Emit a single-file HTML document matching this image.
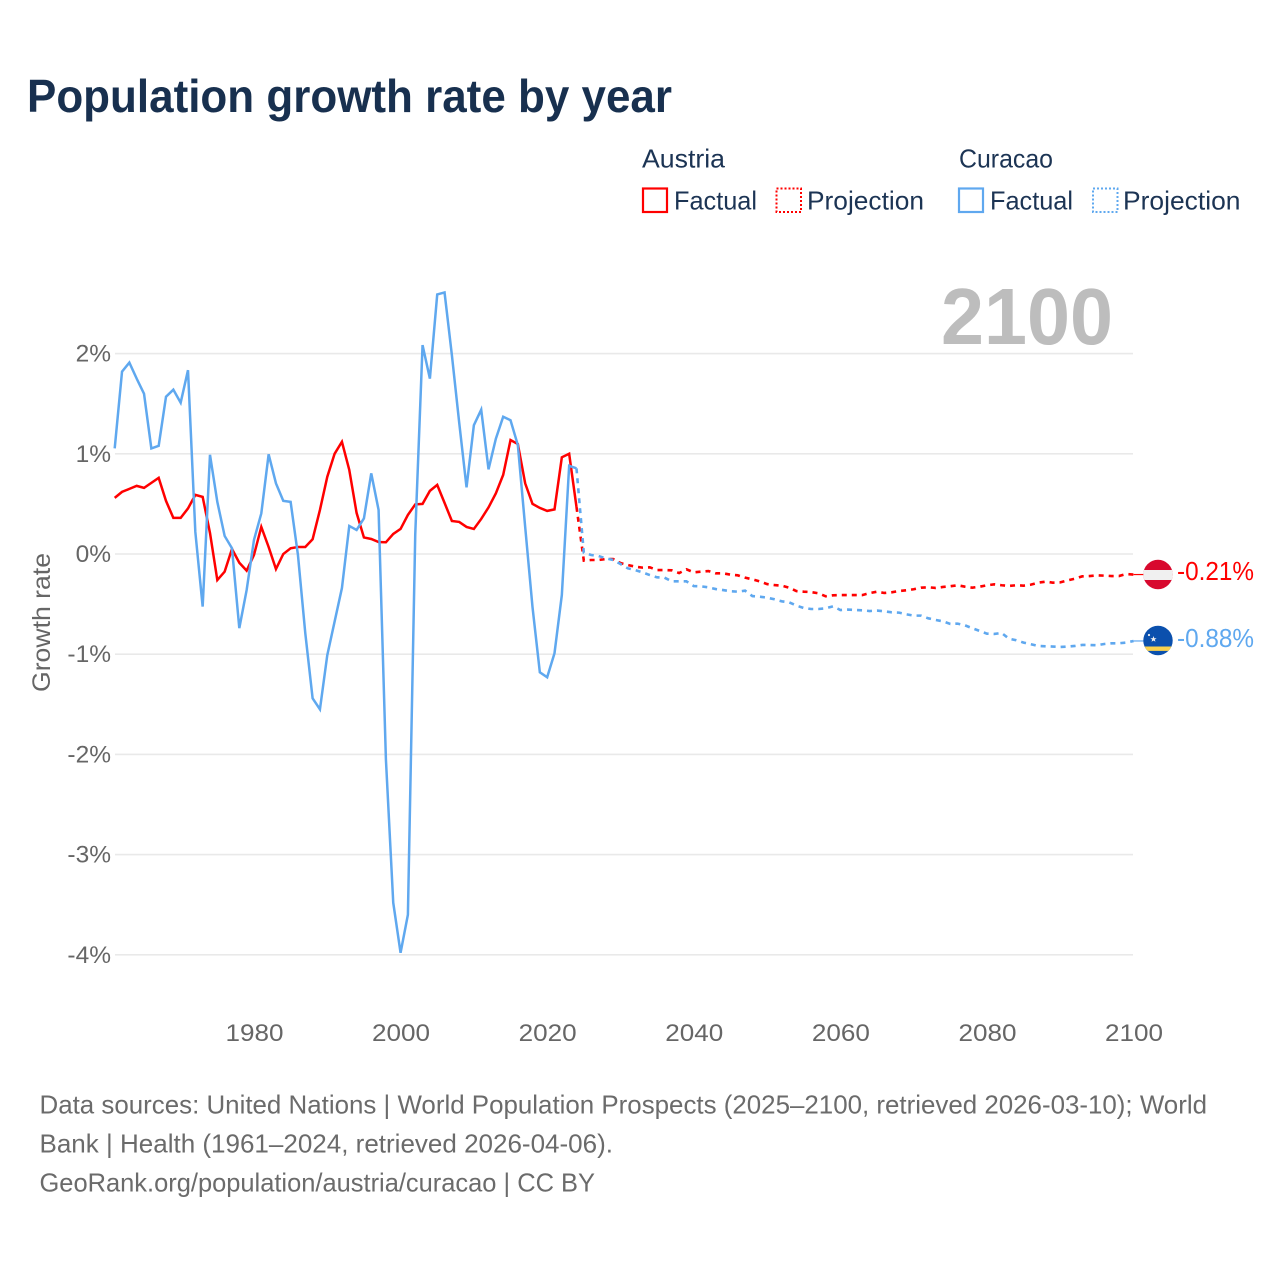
<!DOCTYPE html>
<html lang="en">
<head>
<meta charset="utf-8">
<title>Population growth rate by year</title>
<style>
html,body{margin:0;padding:0;background:#fff;width:1280px;height:1280px;overflow:hidden}
svg{display:block}
text{font-family:"Liberation Sans",sans-serif}
</style>
</head>
<body>
<svg id="chart" xmlns="http://www.w3.org/2000/svg" width="1280" height="1280" viewBox="0 0 1280 1280">
  <defs>
    <clipPath id="clip-at"><circle cx="1158" cy="574.5" r="14.7"/></clipPath>
    <clipPath id="clip-cw"><circle cx="1158" cy="640.5" r="14.7"/></clipPath>
  </defs>
  <rect width="1280" height="1280" fill="#fff"/>
  <text x="27" y="112" font-size="46" font-weight="700" fill="#18304f" textLength="645" lengthAdjust="spacingAndGlyphs">Population growth rate by year</text>

  <g font-size="26" fill="#1c3454">
    <text x="642" y="167.5" textLength="83" lengthAdjust="spacingAndGlyphs">Austria</text>
    <text x="959" y="167.5" textLength="94" lengthAdjust="spacingAndGlyphs">Curacao</text>
    <rect x="643" y="188.5" width="24" height="23.5" fill="none" stroke="#ff0000" stroke-width="2.2"/>
    <text x="674" y="209.5" textLength="83" lengthAdjust="spacingAndGlyphs">Factual</text>
    <rect x="776.5" y="188.5" width="24.5" height="23.5" fill="none" stroke="#ff0000" stroke-width="2" stroke-dasharray="2 2"/>
    <text x="807" y="209.5" textLength="117" lengthAdjust="spacingAndGlyphs">Projection</text>
    <rect x="959" y="188.5" width="24" height="23.5" fill="none" stroke="#5fa8ef" stroke-width="2.2"/>
    <text x="990" y="209.5" textLength="83" lengthAdjust="spacingAndGlyphs">Factual</text>
    <rect x="1093" y="188.5" width="24.5" height="23.5" fill="none" stroke="#5fa8ef" stroke-width="2" stroke-dasharray="2 2"/>
    <text x="1123" y="209.5" textLength="117.5" lengthAdjust="spacingAndGlyphs">Projection</text>
  </g>

  <g id="grid"></g>
  <g id="yticks"></g>
  <g id="xticks"></g>
  <text transform="translate(50,692) rotate(-90)" font-size="25" fill="#666" textLength="139" lengthAdjust="spacingAndGlyphs">Growth rate</text>
  <text x="941" y="344" font-size="80" font-weight="700" fill="#bdbdbd" textLength="172" lengthAdjust="spacingAndGlyphs">2100</text>

  <g id="series"></g>

  <g clip-path="url(#clip-at)">
    <rect x="1143" y="559" width="30" height="31" fill="#d8092e"/>
    <rect x="1143" y="570" width="30" height="10" fill="#f0f0f0"/>
  </g>
  <g clip-path="url(#clip-cw)">
    <rect x="1143" y="625" width="30" height="31" fill="#0b50ad"/>
    <rect x="1143" y="646.5" width="30" height="4.4" fill="#f9d24e"/>
    <polygon points="1153.5,636 1154.3,638.2 1156.6,638.2 1154.8,639.6 1155.5,641.8 1153.5,640.5 1151.5,641.8 1152.2,639.6 1150.4,638.2 1152.7,638.2" fill="#eee"/>
    <circle cx="1149" cy="635" r="1.1" fill="#eee"/>
  </g>
  <text x="1177" y="580" font-size="26" fill="#ff0000" textLength="77" lengthAdjust="spacingAndGlyphs">-0.21%</text>
  <text x="1177" y="647" font-size="26" fill="#5fa8ef" textLength="77" lengthAdjust="spacingAndGlyphs">-0.88%</text>

  <g font-size="26" fill="#6b6b6b">
    <text x="39.5" y="1113.5" textLength="1167.5" lengthAdjust="spacingAndGlyphs">Data sources: United Nations | World Population Prospects (2025–2100, retrieved 2026-03-10); World</text>
    <text x="39.5" y="1152.5" textLength="573.5" lengthAdjust="spacingAndGlyphs">Bank | Health (1961–2024, retrieved 2026-04-06).</text>
    <text x="39.5" y="1191.5" textLength="555.5" lengthAdjust="spacingAndGlyphs">GeoRank.org/population/austria/curacao | CC BY</text>
  </g>
</svg>
<script>
const factualYears = [1961,1962,1963,1964,1965,1966,1967,1968,1969,1970,1971,1972,1973,1974,1975,1976,1977,1978,1979,1980,1981,1982,1983,1984,1985,1986,1987,1988,1989,1990,1991,1992,1993,1994,1995,1996,1997,1998,1999,2000,2001,2002,2003,2004,2005,2006,2007,2008,2009,2010,2011,2012,2013,2014,2015,2016,2017,2018,2019,2020,2021,2022,2023,2024];
const austriaFactual = [0.56,0.62,0.65,0.68,0.66,0.71,0.76,0.53,0.36,0.36,0.455,0.59,0.57,0.21,-0.26,-0.176,0.05,-0.087,-0.166,-0.01,0.27,0.07,-0.15,0,0.057,0.07,0.07,0.147,0.44,0.77,1.0,1.12,0.84,0.41,0.165,0.15,0.12,0.117,0.2,0.25,0.39,0.495,0.5,0.63,0.69,0.51,0.33,0.32,0.27,0.25,0.35,0.465,0.605,0.79,1.137,1.097,0.705,0.5,0.46,0.43,0.445,0.965,1.0,0.47];
const curacaoFactual = [1.054,1.82,1.91,1.75,1.6,1.054,1.08,1.57,1.64,1.51,1.835,0.22,-0.525,0.99,0.52,0.18,0.057,-0.74,-0.36,0.14,0.405,0.995,0.705,0.53,0.52,-0.01,-0.79,-1.44,-1.55,-1.01,-0.675,-0.34,0.28,0.24,0.355,0.805,0.44,-2.05,-3.48,-3.98,-3.6,0.19,2.085,1.75,2.59,2.61,1.985,1.31,0.665,1.285,1.44,0.845,1.15,1.37,1.335,1.087,0.27,-0.53,-1.18,-1.23,-0.99,-0.41,0.88,0.855];
const projectionYears = [2024,2025,2026,2027,2028,2029,2030,2031,2032,2033,2034,2035,2036,2037,2038,2039,2040,2041,2042,2043,2044,2045,2046,2047,2048,2049,2050,2051,2052,2053,2054,2055,2056,2057,2058,2059,2060,2061,2062,2063,2064,2065,2066,2067,2068,2069,2070,2071,2072,2073,2074,2075,2076,2077,2078,2079,2080,2081,2082,2083,2084,2085,2086,2087,2088,2089,2090,2091,2092,2093,2094,2095,2096,2097,2098,2099,2100];
const austriaProjection = [0.47,-0.066,-0.06,-0.06,-0.05,-0.05,-0.09,-0.11,-0.126,-0.136,-0.133,-0.16,-0.16,-0.163,-0.19,-0.153,-0.183,-0.176,-0.17,-0.193,-0.193,-0.206,-0.213,-0.236,-0.253,-0.273,-0.3,-0.31,-0.316,-0.336,-0.37,-0.376,-0.38,-0.392,-0.422,-0.412,-0.41,-0.41,-0.41,-0.41,-0.39,-0.376,-0.389,-0.382,-0.369,-0.362,-0.352,-0.336,-0.332,-0.339,-0.329,-0.322,-0.312,-0.326,-0.336,-0.326,-0.312,-0.303,-0.312,-0.319,-0.312,-0.316,-0.306,-0.286,-0.276,-0.286,-0.283,-0.263,-0.246,-0.223,-0.22,-0.213,-0.216,-0.22,-0.22,-0.2,-0.205];
const curacaoProjection = [0.855,0.013,-0.01,-0.02,-0.043,-0.06,-0.1,-0.143,-0.16,-0.183,-0.21,-0.233,-0.236,-0.273,-0.273,-0.273,-0.32,-0.323,-0.333,-0.35,-0.36,-0.372,-0.376,-0.366,-0.42,-0.426,-0.436,-0.452,-0.472,-0.482,-0.515,-0.539,-0.549,-0.549,-0.542,-0.522,-0.559,-0.555,-0.559,-0.562,-0.569,-0.565,-0.572,-0.582,-0.585,-0.602,-0.615,-0.615,-0.642,-0.658,-0.672,-0.698,-0.695,-0.712,-0.741,-0.768,-0.795,-0.798,-0.788,-0.845,-0.861,-0.884,-0.901,-0.918,-0.921,-0.924,-0.928,-0.924,-0.918,-0.908,-0.908,-0.911,-0.898,-0.891,-0.891,-0.884,-0.868];
const yTickValues = [2,1,0,-1,-2,-3,-4];
const yTickLabels = ["2%","1%","0%","-1%","-2%","-3%","-4%"];
const xTickValues = [1980,2000,2020,2040,2060,2080,2100];
const xTickLabels = ["1980","2000","2020","2040","2060","2080","2100"];

const NS = "http://www.w3.org/2000/svg";
function xScale(year){ return 114.7 + (year - 1961) * 7.33; }
function yScale(v){ return 554 - v * 100.2; }
function toPath(years, values){
  return years.map(function(yr, i){
    return (i ? "L" : "M") + xScale(yr).toFixed(2) + " " + yScale(values[i]).toFixed(2);
  }).join("");
}
const gridG = document.getElementById("grid");
const yG = document.getElementById("yticks");
const xG = document.getElementById("xticks");
const seriesG = document.getElementById("series");

yTickValues.forEach(function(v, i){
  const ln = document.createElementNS(NS, "line");
  
  
  ln.setAttribute("x1", 115);
  ln.setAttribute("x2", 1133);
  ln.setAttribute("y1", yScale(v));
  ln.setAttribute("y2", yScale(v));
  ln.setAttribute("stroke", "#e9e9e9");
  ln.setAttribute("stroke-width", "1.6");
  gridG.appendChild(ln);
  const t = document.createElementNS(NS, "text");
  
  
  t.setAttribute("x", 111);
  t.setAttribute("y", yScale(v) + 8);
  t.setAttribute("text-anchor", "end");
  t.setAttribute("font-size", "24.5");
  t.setAttribute("fill", "#666");
  t.textContent = yTickLabels[i];
  yG.appendChild(t);
});
xTickValues.forEach(function(yr, i){
  const t = document.createElementNS(NS, "text");
  
  
  t.setAttribute("x", xScale(yr) + 0.5);
  t.setAttribute("y", 1041);
  t.setAttribute("text-anchor", "middle");
  t.setAttribute("font-size", "24.5");
  t.setAttribute("fill", "#666");
  t.setAttribute("textLength", "58");
  t.setAttribute("lengthAdjust", "spacingAndGlyphs");
  t.textContent = xTickLabels[i];
  xG.appendChild(t);
});

function addProjection(name, years, values, color){
  const p = document.createElementNS(NS, "path");
  
  
  p.setAttribute("d", toPath(years, values));
  p.setAttribute("fill", "none");
  p.setAttribute("stroke", color);
  p.setAttribute("stroke-width", "2.6");
  p.setAttribute("stroke-dasharray", "5 5");
  seriesG.appendChild(p);
}
function addFactual(name, years, values, color){
  const p = document.createElementNS(NS, "path");
  
  
  p.setAttribute("d", toPath(years, values));
  p.setAttribute("fill", "none");
  p.setAttribute("stroke", color);
  p.setAttribute("stroke-width", "2.5");
  p.setAttribute("stroke-linejoin", "miter");
  seriesG.appendChild(p);
}
function addConnector(name, value, color){
  const c = document.createElementNS(NS, "line");
  
  
  c.setAttribute("x1", xScale(2100));
  c.setAttribute("x2", 1144);
  c.setAttribute("y1", yScale(value));
  c.setAttribute("y2", yScale(value));
  c.setAttribute("stroke", color);
  c.setAttribute("stroke-width", "1.2");
  seriesG.appendChild(c);
}
addFactual("austria-factual-line", factualYears, austriaFactual, "#ff0000");
addProjection("austria-projection-line", projectionYears, austriaProjection, "#ff0000");
addFactual("curacao-factual-line", factualYears, curacaoFactual, "#5fa8ef");
addProjection("curacao-projection-line", projectionYears, curacaoProjection, "#5fa8ef");
addConnector("austria-flag-connector", austriaProjection[austriaProjection.length - 1], "#ff0000");
addConnector("curacao-flag-connector", curacaoProjection[curacaoProjection.length - 1], "#5fa8ef");
</script>
</body>
</html>
